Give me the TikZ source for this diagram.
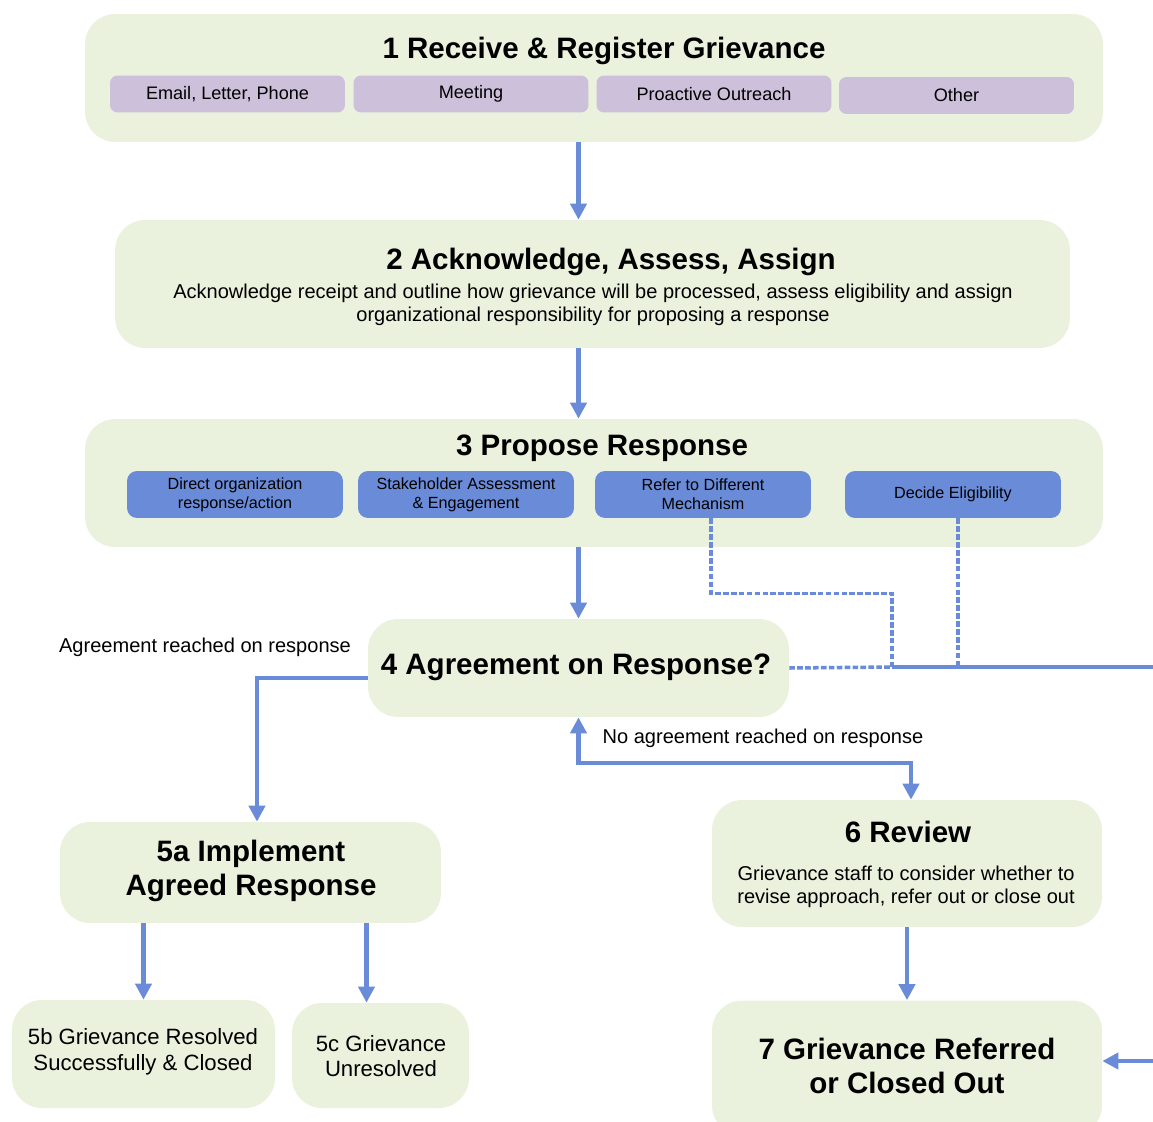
\documentclass[tikz,border=0pt]{standalone}
\usepackage{fontspec}
\setmainfont{Liberation Sans}
\usetikzlibrary{arrows.meta}
\definecolor{boxgreen}{HTML}{EAF1DD}
\definecolor{boxpurple}{HTML}{CCC0DA}
\definecolor{boxblue}{HTML}{6A8BD7}

\begin{document}
\begin{tikzpicture}[
  stageblock/.style = {rectangle, fill = boxgreen, rounded corners = 0.6cm, inner sep = 0pt},
  channelblock/.style = {rectangle, fill = boxpurple, rounded corners = 0.15cm, inner sep = 0pt, minimum width = 4.7cm, minimum height = 0.74cm, font = \fontsize{10.3}{12}\selectfont},
  optionblock/.style = {rectangle, fill = boxblue, rounded corners = 0.2cm, inner sep = 0pt, align = center, minimum width = 4.32cm, minimum height = 0.94cm, font = \fontsize{9.2}{10.8}\selectfont},
  titletext/.style = {inner sep = 0pt, align = center, font = \fontsize{16.8}{19}\selectfont\bfseries},
  bodytext/.style = {inner sep = 0pt, align = center, font = \fontsize{11.4}{13}\selectfont},
  flow/.style = {draw = boxblue, line width = 2.3pt, -{Triangle[length = 0.32cm, width = 0.32cm]}},
  dashflow/.style = {draw = boxblue, line width = 2pt, dash pattern = on 3.2pt off 1.3pt},
  x = 0.02cm,
  y = -0.02cm
]
  \useasboundingbox (0, 0) rectangle (1153, 1122);
  \clip (0, 0) rectangle (1153, 1122);

  % stages
  \node[stageblock, minimum width = 20.36cm, minimum height = 2.56cm] (receive) at (594, 78) {};
  \node[stageblock, minimum width = 19.1cm, minimum height = 2.56cm] (assess) at (592.5, 284) {};
  \node[stageblock, minimum width = 20.36cm, minimum height = 2.56cm] (propose) at (594, 483) {};
  \node[stageblock, minimum width = 8.42cm, minimum height = 1.96cm] (agree) at (578.5, 668) {};
  \node[stageblock, minimum width = 7.62cm, minimum height = 2.02cm] (implement) at (250.5, 872.5) {};
  \node[stageblock, minimum width = 5.26cm, minimum height = 2.16cm] (resolved) at (143.5, 1054) {};
  \node[stageblock, minimum width = 3.54cm, minimum height = 2.1cm] (unresolved) at (380.5, 1055.5) {};
  \node[stageblock, minimum width = 7.8cm, minimum height = 2.54cm] (review) at (907, 863.5) {};
  \node[stageblock, minimum width = 7.8cm, minimum height = 2.7cm] (closed) at (907, 1068) {};

  % stage texts
  \node[titletext] (receivet) at (604, 51) {1 Receive \& Register Grievance};
  \node[titletext] (assesst) at (611, 262) {2 Acknowledge, Assess, Assign};
  \node[bodytext] (assessb) at (593, 305) {Acknowledge receipt and outline how grievance will be processed, assess eligibility and assign\\organizational responsibility for proposing a response};
  \node[titletext] (proposet) at (602, 448) {3 Propose Response};
  \node[titletext] (agreet) at (576, 667) {4 Agreement on Response?};
  \node[titletext] (implementt) at (251, 871) {5a Implement\\Agreed Response};
  \node[bodytext, font = \fontsize{12.6}{14.7}\selectfont] (resolvedt) at (143, 1052) {5b Grievance Resolved\\Successfully \& Closed};
  \node[bodytext, font = \fontsize{12.6}{14.7}\selectfont] (unresolvedt) at (381, 1056) {5c Grievance\\Unresolved};
  \node[titletext] (reviewt) at (908, 832) {6 Review};
  \node[bodytext] (reviewb) at (906, 887) {Grievance staff to consider whether to\\revise approach, refer out or close out};
  \node[titletext] (closedt) at (907, 1066) {7 Grievance Referred\\or Closed Out};

  % channels
  \node[channelblock] (email) at (227.5, 94) {Email, Letter, Phone};
  \node[channelblock] (meeting) at (471, 94) {Meeting};
  \node[channelblock] (outreach) at (714, 94) {Proactive Outreach};
  \node[channelblock] (other) at (956.5, 95.5) {Other};

  % response options
  \node[optionblock] (direct) at (235, 494.5) {Direct organization\\response/action};
  \node[optionblock] (stake) at (466, 494.5) {Stakeholder Assessment\\\& Engagement};
  \node[optionblock] (refer) at (703, 494.5) {Refer to Different\\Mechanism};
  \node[optionblock] (decide) at (953, 494.5) {Decide Eligibility};

  % labels
  \node[bodytext] (yeslabel) at (205, 647) {Agreement reached on response};
  \node[bodytext] (nolabel) at (763, 738) {No agreement reached on response};

  \coordinate (join) at (892, 667);
  \coordinate (exit) at (1153, 667);
  \coordinate (back) at (1153, 1061);

  \draw[flow] (receive.south -| agree) -- (assess.north -| agree);
  \draw[flow] (assess.south -| agree) -- (propose.north -| agree);
  \draw[flow] (propose.south -| agree) -- (agree.north);
  \draw[flow] ([yshift = -0.2cm]agree.west) -| ([xshift = 0.13cm]implement.north);
  \draw[flow] (implement.south -| resolved) -- (resolved.north);
  \draw[flow] ([xshift = -0.28cm]unresolved.north |- implement.south) -- ([xshift = -0.28cm]unresolved.north);
  \draw[flow, {Triangle[length = 0.32cm, width = 0.32cm]}-{Triangle[length = 0.32cm, width = 0.32cm]}] (agree.south) -- ++(0, 46) -| ([xshift = 0.08cm]review.north);
  \draw[flow] (review.south) -- (closed.north);

  \draw[dashflow] (agree.east) -- (join);
  \draw[dashflow] ([xshift = 0.16cm]refer.south) -- ++(0, 75) -| (join);
  \draw[dashflow] ([xshift = 0.1cm]decide.south) -- ([xshift = 0.1cm]decide.south |- join);
  \draw[flow, -] (join) -- (exit);
  \draw[flow] (back) -- (closed.east |- back);
\end{tikzpicture}
\end{document}
